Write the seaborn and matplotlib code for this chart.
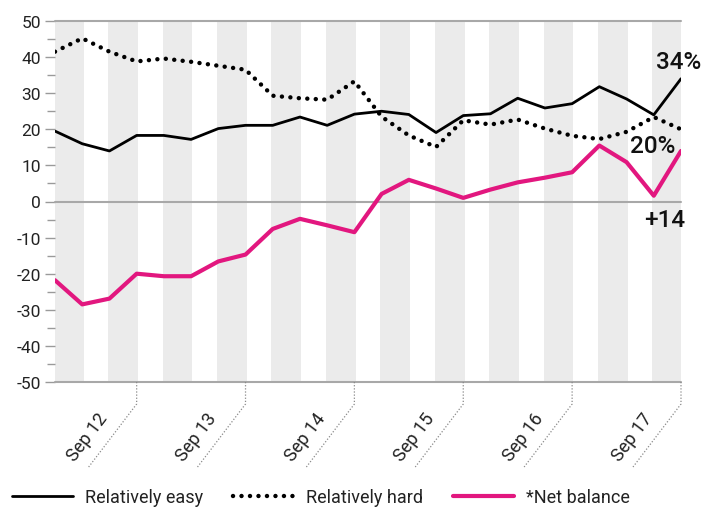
import matplotlib
matplotlib.use("Agg")
import matplotlib.pyplot as plt
from matplotlib.lines import Line2D
from matplotlib.ticker import MultipleLocator
import pandas as pd
import seaborn as sns

# Quarterly survey readings, Dec 2011 to Sep 2017
quarters = [
    "Dec 11", "Mar 12", "Jun 12", "Sep 12", "Dec 12", "Mar 13", "Jun 13", "Sep 13",
    "Dec 13", "Mar 14", "Jun 14", "Sep 14", "Dec 14", "Mar 15", "Jun 15", "Sep 15",
    "Dec 15", "Mar 16", "Jun 16", "Sep 16", "Dec 16", "Mar 17", "Jun 17", "Sep 17",
]
relatively_easy = [19.5, 16.0, 14.0, 18.3, 18.3, 17.2, 20.2, 21.1, 21.1, 23.4, 21.1, 24.2,
                   25.0, 24.1, 19.1, 23.8, 24.3, 28.6, 25.9, 27.1, 31.8, 28.4, 24.0, 34.0]
relatively_hard = [41.5, 45.2, 41.5, 38.8, 39.6, 38.7, 37.6, 36.5, 29.3, 28.6, 28.2, 33.3,
                   23.5, 18.3, 15.1, 22.5, 21.3, 22.7, 20.2, 18.2, 17.3, 19.3, 23.4, 20.0]
net_balance = [-21.8, -28.5, -26.9, -20.0, -20.7, -20.7, -16.6, -14.7, -7.6, -4.8, -6.6, -8.5,
               2.1, 6.0, 3.6, 1.0, 3.3, 5.3, 6.6, 8.1, 15.5, 10.9, 1.6, 14.0]
series_names = ["Relatively easy", "Relatively hard", "*Net balance"]
end_labels = ["34%", "20%", "+14"]
y_ticks = [-50, -40, -30, -20, -10, 0, 10, 20, 30, 40, 50]

df = pd.DataFrame({
    "idx": range(len(quarters)),
    "quarter": quarters,
    "easy": relatively_easy,
    "hard": relatively_hard,
    "net": net_balance,
})

sns.set_style("white")
plt.rcParams["font.family"] = ["Roboto", "DejaVu Sans"]

W, H = 704, 510
fig = plt.figure(figsize=(W / 100, H / 100), dpi=100)
ax = fig.add_axes([55 / W, 1 - 383 / H, (681 - 55) / W, (383 - 22) / H])

n = len(quarters)
ax.set_xlim(0, n - 1)
ax.set_ylim(-50, 50)

# alternating shaded columns
for k in range(0, n - 1, 2):
    ax.axvspan(max(k - 0.05, 0), min(k + 1.05, n - 1), color="#ebebeb", lw=0, zorder=0)

for yv in (50, 0, -50):
    ax.axhline(yv, color="#a8a8a8", lw=1.5, zorder=1, clip_on=False)

sns.lineplot(data=df, x="idx", y="easy", ax=ax, color="black", lw=2.0,
             label=series_names[0], zorder=3)
sns.lineplot(data=df, x="idx", y="hard", ax=ax, color="black", lw=3.2,
             linestyle=(0, (0.01, 1.9)), dash_capstyle="round",
             label=series_names[1], zorder=3)
sns.lineplot(data=df, x="idx", y="net", ax=ax, color="#e2177f", lw=3.0,
             label=series_names[2], zorder=4)

for s in ax.spines.values():
    s.set_visible(False)

ax.set_xlabel("")
ax.set_ylabel("")
ax.set_xticks([])
ax.set_yticks(y_ticks)
ax.set_yticklabels([str(v) for v in y_ticks])
ax.yaxis.set_minor_locator(MultipleLocator(5))
ax.tick_params(axis="y", which="major", length=7, width=1, color="#9a9a9a",
               pad=3, labelsize=12.5, labelcolor="#222222", left=True)
ax.tick_params(axis="y", which="minor", length=6, width=1, color="#9a9a9a", left=True)

# end-of-series value labels
ax.text(22.9, 38.8, end_labels[0], fontsize=17.5, fontweight="medium",
        ha="center", va="center", color="#111111", zorder=5)
ax.text(21.95, 15.5, end_labels[1], fontsize=17.5, fontweight="medium",
        ha="center", va="center", color="#111111", zorder=5)
ax.text(22.4, -4.9, end_labels[2], fontsize=17.5, fontweight="medium",
        ha="center", va="center", color="#111111", zorder=5)

# September tick labels with dotted leader lines below the axis
fig.canvas.draw()
for i, q in enumerate(quarters):
    if not q.startswith("Sep"):
        continue
    px = ax.transData.transform((i, 0))[0]
    xs = [px, px, px - 48]
    ys = [383, 405, 468]
    fig.add_artist(Line2D([x / W for x in xs], [1 - y / H for y in ys],
                          transform=fig.transFigure, color="#8a8a8a",
                          lw=0.9, linestyle=(0, (1, 1.5))))
    fig.text((px - 49) / W, 1 - 438 / H, q, rotation=53, rotation_mode="anchor",
             ha="center", va="center", fontsize=13, color="#222222")

leg = ax.legend(loc="center left", bbox_to_anchor=(12 / W, 1 - 498 / H),
                bbox_transform=fig.transFigure, ncol=3, frameon=False,
                handlelength=3.4, handletextpad=0.65, columnspacing=1.65,
                borderpad=0, borderaxespad=0, fontsize=13)
for t in leg.get_texts():
    t.set_color("#222222")

fig.savefig("out.png", dpi=100)
